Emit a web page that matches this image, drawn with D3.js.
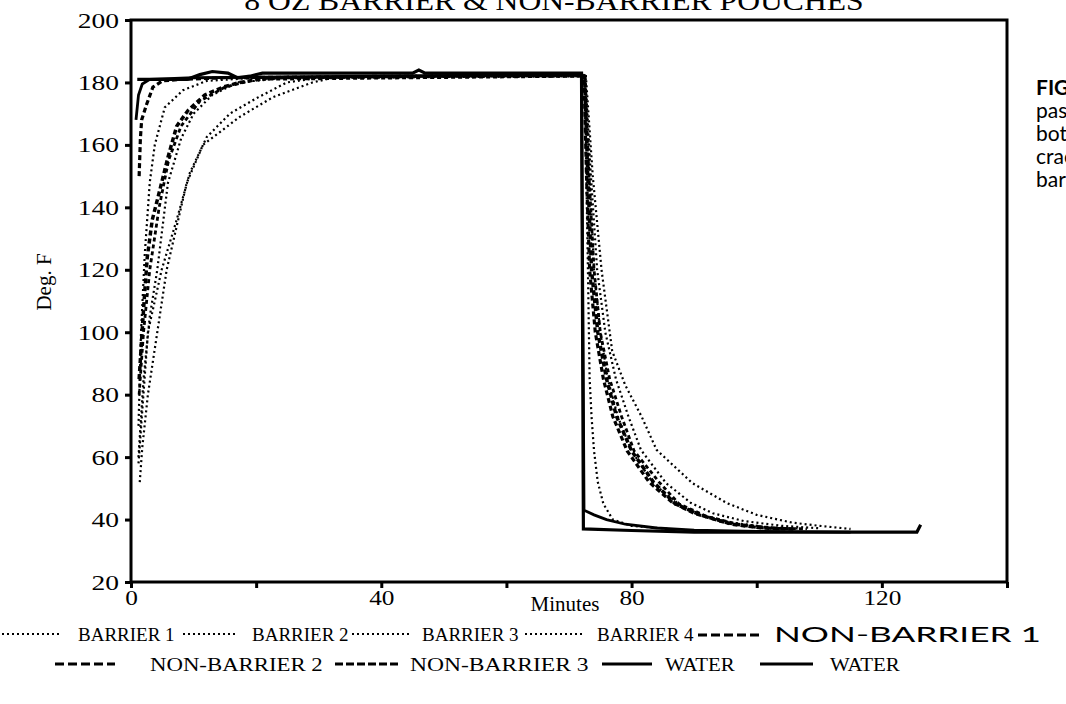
<!DOCTYPE html>
<html>
<head>
<meta charset="utf-8">
<script src="https://d3js.org/d3.v7.min.js"></script>
<style>
  body { margin: 0; background: #fff; }
  svg { display: block; }
  .serif { font-family: 'Liberation Serif', 'Times New Roman', serif; }
  .sans { font-family: Lato, 'Open Sans', sans-serif; }
</style>
</head>
<body>
<div id="chart"></div>
<script>
// [minute, deg F]
const barrier1 = [[1.2,70],[1.6,100],[2.2,125],[3.0,148],[3.8,160],[5.4,172],[8.3,177.5],[12.1,180.5],[20,181.5],[40,182],[72,182],
  [72.5,182],[73,123],[73.3,85],[73.6,73],[74,62],[74.6,52],[75.5,45],[77,40],[80,38],[86,37]]
const barrier2 = [[1.2,60],[2,85],[3,105],[4.2,120],[5.9,147.8],[8,162],[10,170],[13,176],[17,180],[25,181.5],[72,182],
  [72.6,182],[73.3,150],[74,120],[75,100],[76.2,85],[77.8,73],[80,62],[83.5,51.5],[87.5,45],[91,41.5],[96,39],[102,37.5],[108,37]]
const barrier3 = [[1.2,58],[2.7,100],[4.9,120],[7.3,136],[9.4,151],[12.1,162.5],[15.8,170],[20.1,175],[24.9,180],[30,181.5],[72,182],
  [72.6,182],[73.5,150],[74.5,120],[75.8,100],[77.5,85],[79.5,73],[81.5,62.3],[85.5,51.7],[89.5,45.3],[93,42],[98,39.5],[104,38],[110,37.2]]
const barrier4 = [[1.4,52],[1.8,63],[2.7,80],[4.2,100],[5.7,120],[8.9,147.8],[11.5,160],[17.4,169],[22.7,175.3],[29,180],[33.4,182],[72,182],
  [72.7,182],[73.8,150],[75.2,120],[76.9,94],[79,83],[81.6,73],[84,62.3],[89.7,51.7],[95.2,45.3],[100,41.5],[105.7,39],[110,38],[115,37]]
const nonBarrier1 = [[1.3,150],[1.5,162],[1.7,168],[2.5,173],[3.5,178.5],[5,180.5],[8,181],[15,181.5],[72,182.5],
  [72.4,182],[72.8,150],[73.3,120],[74.2,100],[75.5,85],[77,73],[79.3,62],[82.8,52],[86.5,45.5],[90,42],[95,39],[100,37.5],[104,37]]
const nonBarrier2 = [[1.3,85],[1.8,101],[2.2,113],[2.6,124],[3.4,136],[4.6,145.5],[5.9,156],[7.3,166],[9.1,171],[11.8,176],[14.7,178.5],[17.4,180],[22,181.5],[72,182.5],
  [72.5,182],[73,150],[73.6,120],[74.6,100],[76,85],[77.6,73],[80,62],[83.5,52],[87,45],[91,41.5],[96,38.5],[101,37.3],[106,37]]
const nonBarrier3 = [[1.3,80],[2,100],[3,120],[4.5,140],[6,155],[8,166],[11,174],[15,178.5],[20,181],[72,182],
  [72.5,182],[73.2,150],[74,120],[75,100],[76.5,85],[78.4,73],[80.4,62],[84.4,52],[87.6,45],[92,41],[97,38.5],[103,37.2],[108,37]]
const water1 = [[1,181],[9,181],[11,182.5],[13,183.5],[15.5,183],[17,181.5],[19,182],[21,183],[45,183],[46,184],[47,183],[72,183],
  [72.3,37],[80,36.5],[90,36],[125.6,36],[126.2,38.3]]
const water2 = [[0.8,168],[1.2,176],[1.8,179.5],[3,181],[10,181.5],[72,182.5],
  [72.4,43],[74,41.5],[76,40],[79,38.5],[84,37.3],[90,36.6],[100,36.2],[115,36]]

const seriesNames = ['BARRIER 1','BARRIER 2','BARRIER 3','BARRIER 4','NON-BARRIER 1','NON-BARRIER 2','NON-BARRIER 3','WATER','WATER']
const seriesData = [barrier1, barrier2, barrier3, barrier4, nonBarrier1, nonBarrier2, nonBarrier3, water1, water2]
const yTicks = [20,40,60,80,100,120,140,160,180,200]
const xTicks = [0,20,40,60,80,100,120,140]
const xLabels = [0,40,80,120]

const W = 1066, H = 704
const svg = d3.select('#chart').append('svg').attr('width', W).attr('height', H)

const x = d3.scaleLinear().domain([0,140]).range([131,1007])
const y = d3.scaleLinear().domain([20,200]).range([582,20])

// title, cut by top edge
svg.append('text').attr('class','serif')
  .attr('transform','translate(554,10) scale(1.13,1)')
  .attr('text-anchor','middle')
  .style('font-size','28px')
  .text('8 OZ BARRIER & NON-BARRIER POUCHES')

// line styles per series
const styles = [
  {w:2.2, dash:'2,3'}, {w:2.2, dash:'2,3'}, {w:2.2, dash:'2,3'}, {w:2.2, dash:'2,3'},
  {w:3.2, dash:'5,3'}, {w:3.5, dash:'5,3'}, {w:2.8, dash:'4,3'},
  {w:3.2, dash:null}, {w:2.8, dash:null}
]

const line = d3.line().x(d => x(d[0])).y(d => y(d[1]))
svg.append('g').selectAll('path')
  .data(seriesData)
  .enter().append('path')
  .attr('d', line)
  .attr('fill','none')
  .attr('stroke','#000')
  .attr('stroke-width', (d,i) => styles[i].w)
  .attr('stroke-dasharray', (d,i) => styles[i].dash)

// axes
const yAxis = svg.append('g').attr('class','serif')
  .attr('transform','translate(131,0)')
  .call(d3.axisLeft(y).tickValues(yTicks).tickSize(6).tickPadding(6))
yAxis.select('.domain').remove()
yAxis.selectAll('line').attr('stroke-width',3)
yAxis.selectAll('text').style('font-size','22px')
  .attr('x', -12/1.25).attr('transform','scale(1.25,1)')

const xAxis = svg.append('g').attr('class','serif')
  .attr('transform','translate(0,582)')
  .call(d3.axisBottom(x).tickValues(xTicks).tickSize(6).tickPadding(1)
    .tickFormat(d => xLabels.includes(d) ? d : ''))
xAxis.select('.domain').remove()
xAxis.selectAll('line').attr('stroke-width',3)
xAxis.selectAll('text').style('font-size','22px').attr('transform','scale(1.15,1)')

svg.append('rect')
  .attr('x', x(0)).attr('y', y(200))
  .attr('width', x(140)-x(0)).attr('height', y(20)-y(200))
  .attr('fill','none').attr('stroke','#000').attr('stroke-width',3)

svg.append('text').attr('class','serif')
  .attr('x', 565).attr('y', 611).attr('text-anchor','middle')
  .style('font-size','21px').text('Minutes')

svg.append('text').attr('class','serif')
  .attr('transform','translate(51,282) rotate(-90)')
  .attr('text-anchor','middle')
  .style('font-size','21px').text('Deg. F')

// caption text at right edge, clipped by the page
const caption = ['FIGURE','pasteurization','both','cracking','barrier']
svg.append('g').attr('class','sans').selectAll('text')
  .data(caption)
  .enter().append('text')
  .attr('x', 1036)
  .attr('y', (d,i) => 95 + i*23)
  .style('font-size','21px')
  .style('font-weight', (d,i) => i == 0 ? 'bold' : 'normal')
  .text(d => d)

// legend
const legendLayout = [
  {x0:2, x1:62, tx:78, ty:641, dash:'2,3', w:2, sx:1},
  {x0:183, x1:237, tx:252, ty:641, dash:'2,3', w:2, sx:1},
  {x0:352, x1:412, tx:422, ty:641, dash:'2,3', w:2, sx:1},
  {x0:525, x1:585, tx:597, ty:641, dash:'2,3', w:2, sx:1},
  {x0:698, x1:760, tx:774, ty:642, dash:'9,4', w:3, sans:true, sx:1.6},
  {x0:55, x1:115, tx:150, ty:671, dash:'9,4', w:3, sx:1.2},
  {x0:335, x1:400, tx:410, ty:671, dash:'8,3', w:3, sx:1.24},
  {x0:602, x1:652, tx:665, ty:671, dash:null, w:3, sx:1.1},
  {x0:760, x1:813, tx:830, ty:671, dash:null, w:3, sx:1.1}
]
const legend = svg.append('g').selectAll('g')
  .data(seriesNames)
  .enter().append('g')
legend.append('line')
  .attr('x1', (d,i) => legendLayout[i].x0)
  .attr('x2', (d,i) => legendLayout[i].x1)
  .attr('y1', (d,i) => legendLayout[i].ty - 7)
  .attr('y2', (d,i) => legendLayout[i].ty - 7)
  .attr('stroke','#000')
  .attr('stroke-width', (d,i) => legendLayout[i].w)
  .attr('stroke-dasharray', (d,i) => legendLayout[i].dash)
legend.append('text')
  .attr('class', (d,i) => legendLayout[i].sans ? 'sans' : 'serif')
  .attr('transform', (d,i) => 'translate(' + legendLayout[i].tx + ',' + legendLayout[i].ty + ') scale(' + legendLayout[i].sx + ',1)')
  .style('font-size', (d,i) => legendLayout[i].sans ? '22px' : '19px')
  .text(d => d)
</script>
</body>
</html>
